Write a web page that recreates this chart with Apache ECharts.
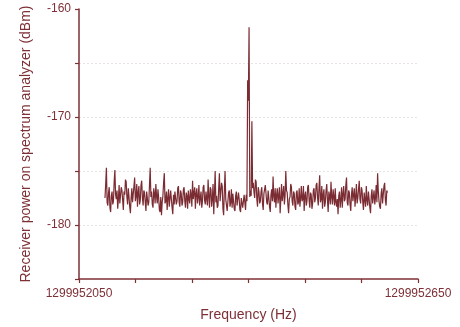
<!DOCTYPE html>
<html>
<head>
<meta charset="utf-8">
<script src="https://cdn.jsdelivr.net/npm/echarts@6/dist/echarts.min.js"></script>
<style>html,body{margin:0;padding:0;background:#fff}#c{width:460px;height:327px}</style>
</head>
<body>
<div id="c"></div>
<script>
const xAxisName = 'Frequency (Hz)';
const yAxisName = 'Receiver power on spectrum analyzer (dBm)';
const xTickLabels = [1299952050, 1299952650];
const yTickLabels = [-160, -170, -180];
const freqStart = 1299952096;
const freqStep = 1.25;
const powerDbm = [
-177.5,-176.2,-174.7,-177.9,-178.2,-177.0,-176.5,-178.4,-178.8,-177.3,-176.9,-178.1,-177.8,-176.0,-174.9,-177.2,-177.6,-176.8,-178.5,-177.6,
-176.3,-178.0,-177.9,-176.5,-176.8,-177.7,-178.6,-176.9,-177.2,-175.8,-176.0,-177.4,-178.1,-176.6,-177.4,-178.3,-178.9,-177.5,-176.6,-177.9,
-177.8,-176.4,-175.6,-177.8,-177.3,-176.2,-178.3,-177.0,-176.4,-178.1,-177.7,-176.3,-175.9,-177.5,-178.2,-176.8,-177.0,-177.9,-178.7,-176.9,
-176.8,-178.2,-177.9,-176.3,-174.7,-177.4,-176.9,-178.1,-178.4,-176.6,-177.1,-178.0,-176.2,-177.3,-178.0,-176.7,-177.5,-178.6,-178.8,-177.4,
-179.1,-177.9,-177.3,-176.1,-175.2,-178.0,-177.8,-176.9,-178.6,-177.5,-176.7,-178.3,-178.2,-176.8,-177.6,-178.4,-179.0,-177.2,-178.1,-176.9,
-176.9,-178.1,-177.8,-176.6,-176.4,-177.9,-178.3,-176.8,-177.1,-178.2,-177.9,-176.7,-176.5,-177.8,-178.4,-177.0,-177.3,-178.5,-176.8,-177.6,
-178.0,-176.7,-177.2,-178.3,-175.9,-177.6,-177.7,-176.5,-178.5,-177.1,-176.6,-178.0,-177.4,-176.3,-178.2,-177.5,-176.9,-178.4,-177.8,-176.5,
-176.3,-177.7,-178.1,-176.9,-177.0,-178.2,-175.8,-177.4,-178.4,-176.5,-176.7,-178.3,-177.6,-176.2,-179.0,-177.1,-175.0,-177.9,-177.3,-178.4,
-178.2,-176.6,-175.2,-177.8,-177.9,-176.1,-176.4,-178.5,-179.1,-176.8,-175.0,-177.6,-177.5,-178.7,-178.6,-177.0,-176.8,-178.3,-177.9,-176.7,
-178.4,-177.1,-177.2,-178.5,-178.7,-177.3,-176.9,-178.2,-178.3,-177.0,-177.6,-178.6,-178.8,-177.5,-177.4,-178.4,-178.5,-177.2,-177.9,-178.6,
-177.2,-177.8,-166.6,-168.5,-161.7,-177.4,-176.8,-177.3,-170.4,-176.6,-176.1,-177.0,-177.5,-175.8,-176.0,-177.6,-178.3,-176.5,-176.9,-178.0,
-177.8,-176.9,-176.5,-178.0,-178.6,-177.1,-177.2,-176.3,-176.4,-177.9,-178.1,-176.8,-177.5,-178.3,-178.8,-177.2,-176.7,-177.8,-175.5,-177.4,
-177.9,-176.6,-178.4,-177.2,-176.6,-178.0,-177.3,-176.5,-178.9,-177.6,-176.2,-177.8,-177.7,-176.4,-178.1,-177.3,-175.0,-176.8,-177.0,-178.2,
-178.9,-177.6,-177.4,-176.2,-176.5,-177.8,-178.2,-176.9,-177.1,-178.3,-178.6,-177.0,-176.8,-178.1,-177.9,-176.6,-178.3,-177.5,-176.4,-177.8,
-177.6,-176.4,-178.7,-177.3,-176.9,-178.2,-177.8,-176.5,-176.3,-177.7,-178.4,-177.0,-177.2,-178.5,-178.0,-176.8,-176.6,-177.9,-177.5,-176.3,
-176.1,-177.5,-178.2,-176.6,-175.4,-177.9,-177.6,-176.4,-178.5,-177.2,-176.7,-178.3,-177.9,-176.8,-176.2,-177.7,-178.8,-176.9,-177.3,-178.1,
-176.0,-177.4,-178.1,-176.7,-177.4,-178.2,-176.6,-177.9,-178.3,-177.6,-179.0,-177.3,-176.9,-178.4,-177.7,-176.5,-178.4,-177.1,-176.4,-177.8,
-177.6,-176.3,-175.6,-177.9,-178.2,-176.8,-177.0,-178.1,-178.7,-177.2,-176.5,-177.8,-177.8,-176.6,-178.3,-177.4,-176.2,-178.0,-177.5,-176.7,
-175.9,-177.6,-178.0,-176.5,-176.8,-177.9,-178.6,-177.0,-177.1,-178.3,-176.4,-177.7,-178.2,-176.9,-177.6,-178.4,-178.9,-177.3,-176.7,-178.0,
-177.4,-176.8,-178.1,-177.5,-176.3,-177.9,-175.2,-176.9,-177.8,-178.3,-178.5,-177.1,-176.6,-178.0,-177.9,-176.4,-176.1,-177.7,-178.2,-176.8,-177.0
];

const data = powerDbm.map((v, i) => [freqStart + i * freqStep, v]);
const axisColor = '#7d3036';
const textColor = '#7d3036';
const font = 'Liberation Sans, Arial, sans-serif';

const chart = echarts.init(document.getElementById('c'), null, {renderer: 'canvas'});
chart.setOption({
  animation: false,
  backgroundColor: '#fff',
  grid: {left: 79, right: 42, top: 9, bottom: 45, containLabel: false},
  xAxis: {
    type: 'value',
    min: xTickLabels[0],
    max: xTickLabels[1],
    interval: 100,
    name: xAxisName,
    nameLocation: 'middle',
    nameGap: 29,
    nameTextStyle: {color: textColor, fontSize: 14, fontFamily: font},
    axisLine: {show: true, lineStyle: {color: axisColor, width: 1.5}},
    axisTick: {show: true, inside: false, length: 4, lineStyle: {color: axisColor, width: 1.2}},
    axisLabel: {
      color: textColor, fontSize: 12, fontFamily: font, margin: 9,
      showMinLabel: true, showMaxLabel: true,
      formatter: v => (xTickLabels.indexOf(v) >= 0 ? String(v) : '')
    },
    splitLine: {show: false}
  },
  yAxis: {
    type: 'value',
    min: -185,
    max: -160,
    interval: 5,
    name: yAxisName,
    nameLocation: 'middle',
    nameGap: 46,
    nameTextStyle: {color: textColor, fontSize: 14, fontFamily: font},
    axisLine: {show: true, lineStyle: {color: axisColor, width: 1.5}},
    axisTick: {show: true, inside: false, length: 4, lineStyle: {color: axisColor, width: 1.2}},
    axisLabel: {
      color: textColor, fontSize: 12, fontFamily: font, margin: 8,
      formatter: v => (yTickLabels.indexOf(v) >= 0 ? String(v) : '')
    },
    splitLine: {show: true, showMinLine: false, showMaxLine: false, lineStyle: {color: '#e8e2e2', type: [2, 2], width: 1}}
  },
  series: [{
    type: 'line',
    data: data,
    showSymbol: false,
    symbol: 'none',
    lineStyle: {color: '#7b2c33', width: 1.2},
    itemStyle: {color: '#7b2c33'}
  }]
});
</script>
</body>
</html>
